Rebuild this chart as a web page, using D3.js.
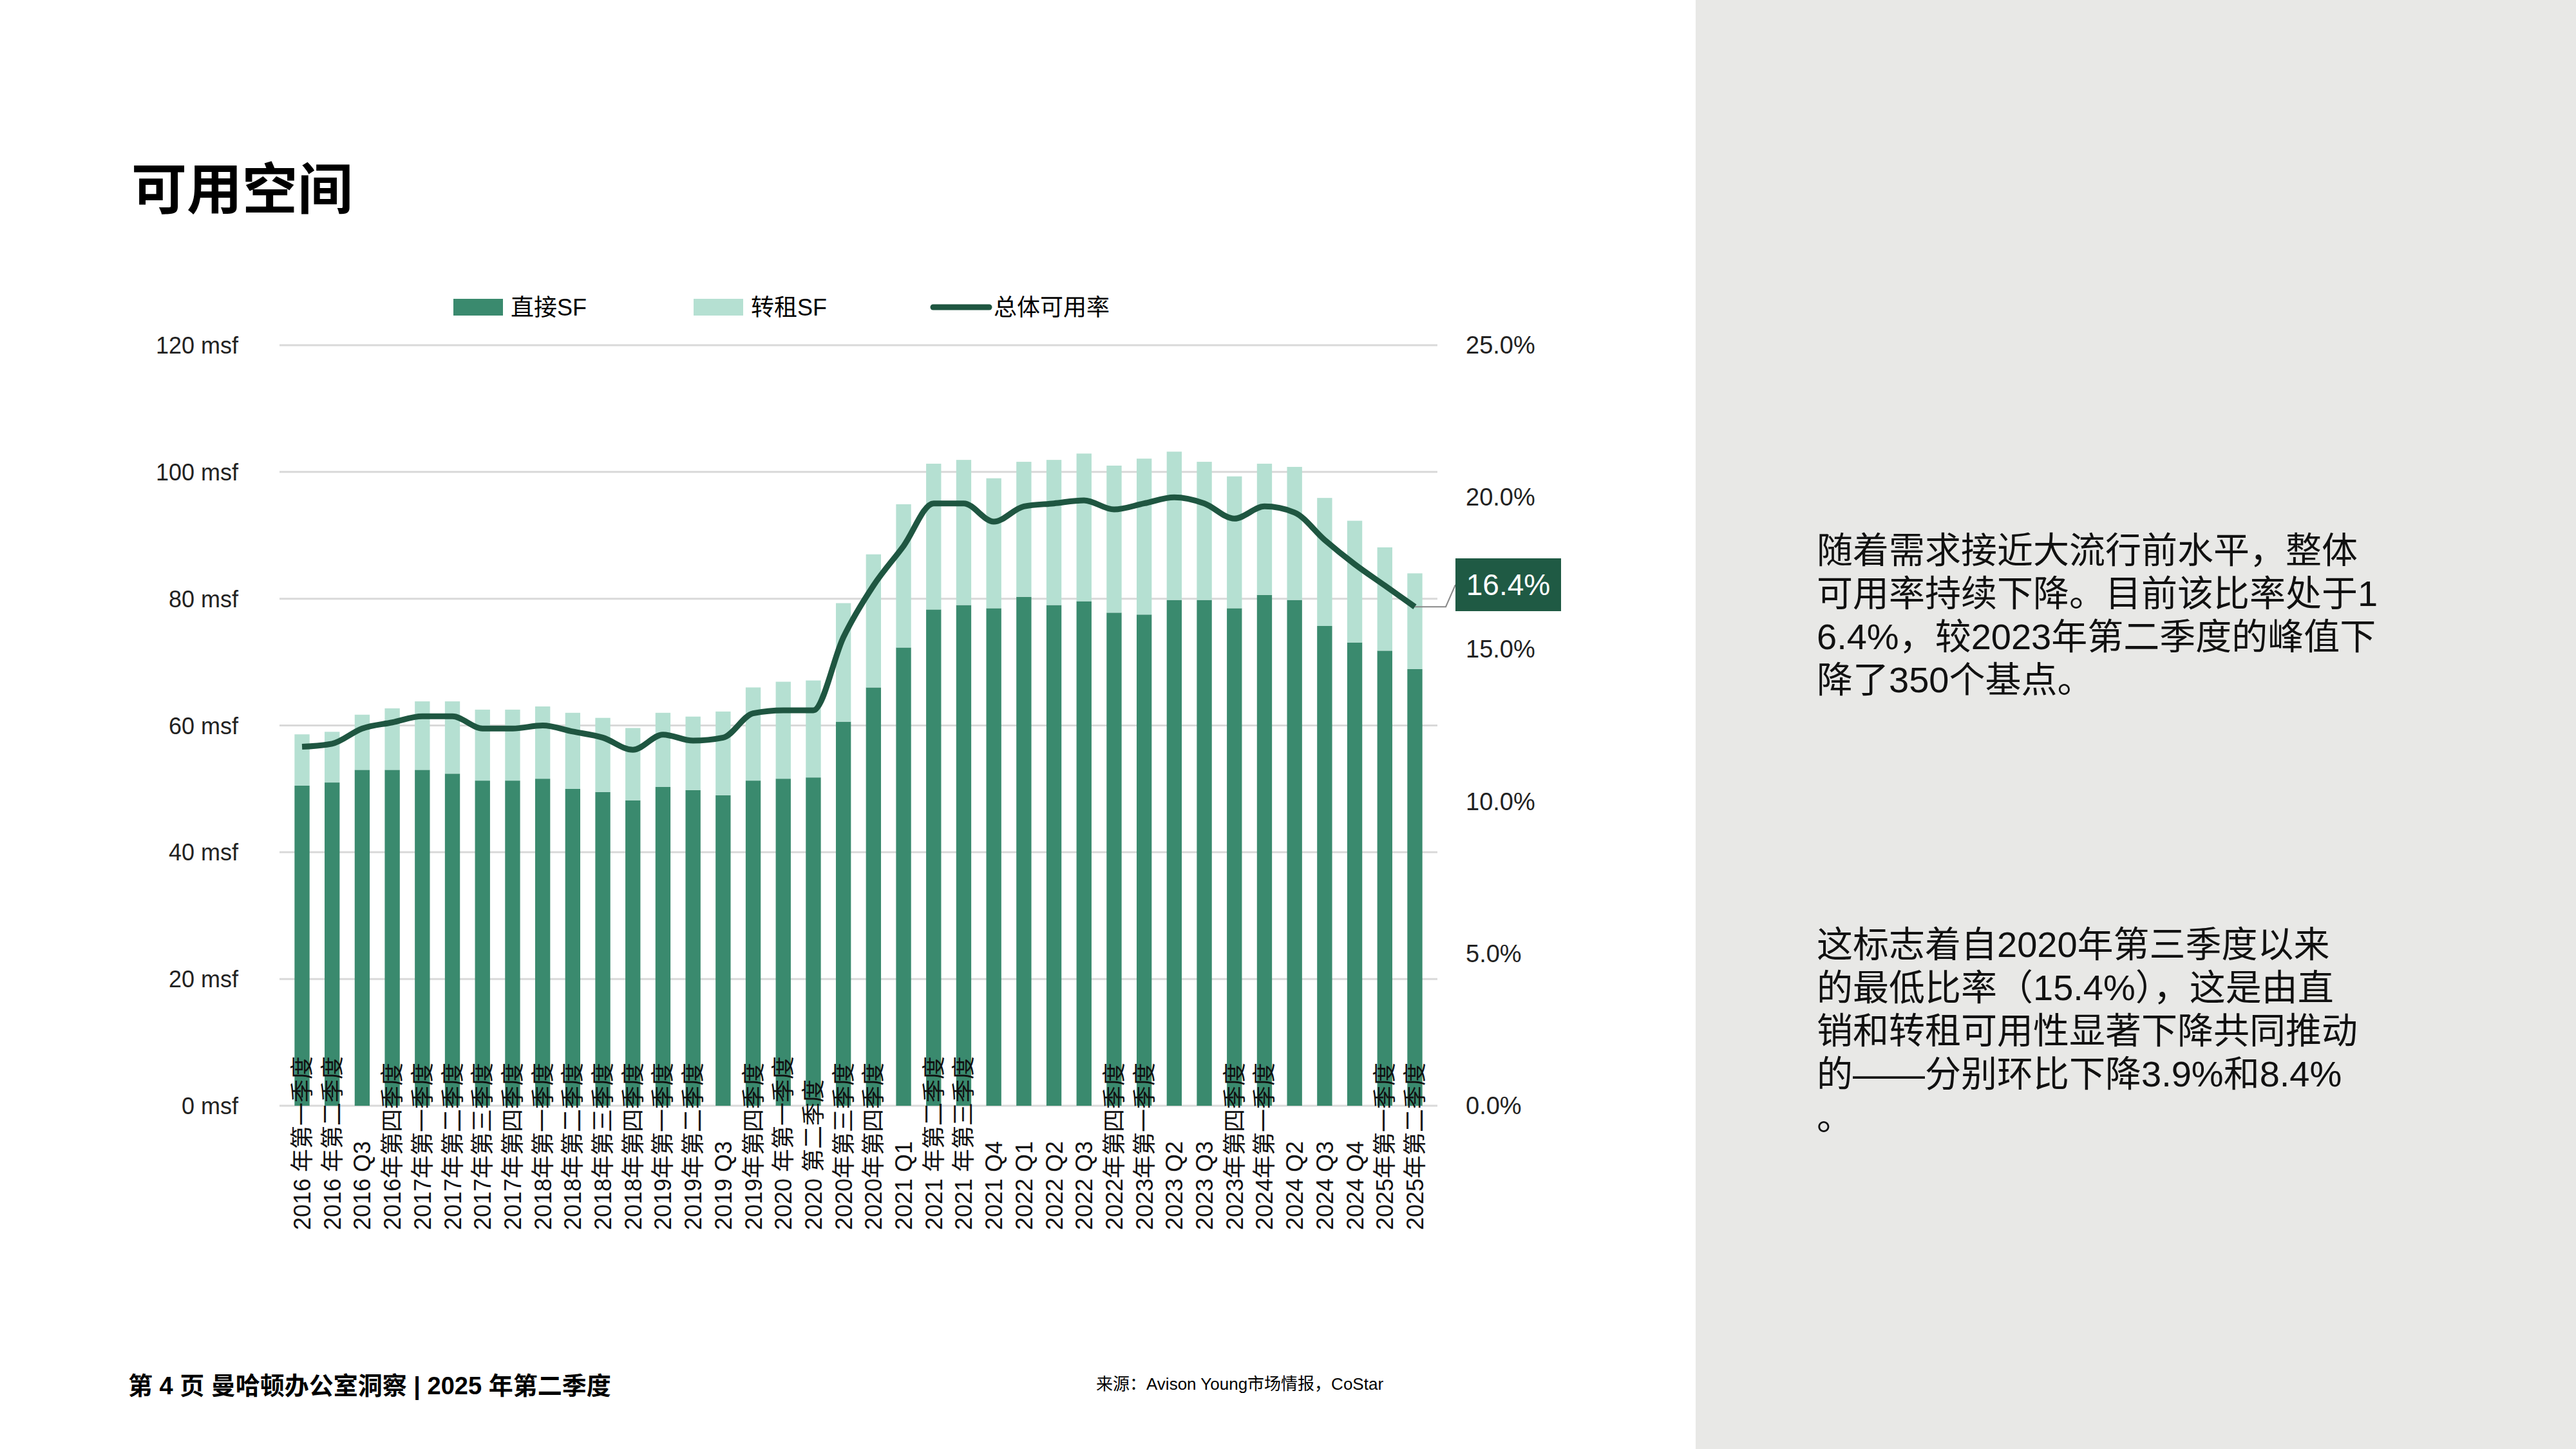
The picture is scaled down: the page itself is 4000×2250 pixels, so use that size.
<!DOCTYPE html><html><head><meta charset="utf-8"><script src="https://cdn.jsdelivr.net/npm/d3@7"></script>
<style>body{margin:0;background:#fff}svg{display:block;font-family:"Liberation Sans","Noto Sans CJK SC",sans-serif}</style></head><body>
<svg id="c" width="4000" height="2250"></svg>
<script>
const categories=["2016 年第一季度","2016 年第二季度","2016 Q3","2016年第四季度","2017年第一季度","2017年第二季度","2017年第三季度","2017年第四季度","2018年第一季度","2018年第二季度","2018年第三季度","2018年第四季度","2019年第一季度","2019年第二季度","2019 Q3","2019年第四季度","2020 年第一季度","2020 第二季度","2020年第三季度","2020年第四季度","2021 Q1","2021 年第二季度","2021 年第三季度","2021 Q4","2022 Q1","2022 Q2","2022 Q3","2022年第四季度","2023年第一季度","2023 Q2","2023 Q3","2023年第四季度","2024年第一季度","2024 Q2","2024 Q3","2024 Q4","2025年第一季度","2025年第二季度"];
const direct=[50.5,51,53,53,53,52.4,51.3,51.3,51.6,50,49.5,48.2,50.3,49.8,49,51.3,51.6,51.8,60.6,66,72.3,78.3,79,78.5,80.3,79,79.6,77.8,77.5,79.8,79.8,78.5,80.6,79.8,75.7,73.1,71.8,68.9];
const total=[58.6,59,61.7,62.7,63.8,63.8,62.5,62.5,63,62,61.2,59.6,62,61.4,62.2,66,66.9,67.1,79.3,87,94.9,101.3,101.9,99,101.6,101.9,102.9,101,102.1,103.2,101.6,99.3,101.3,100.8,95.9,92.3,88.1,84];
const rate=[11.8,11.9,12.4,12.6,12.8,12.8,12.4,12.4,12.5,12.3,12.1,11.7,12.2,12.0,12.1,12.9,13.0,13.0,15.4,17.1,18.4,19.8,19.8,19.2,19.7,19.8,19.9,19.6,19.8,20.0,19.8,19.3,19.7,19.5,18.6,17.8,17.1,16.4];
const leftTicks=[0,20,40,60,80,100,120];
const rightTicks=[0,5,10,15,20,25];

const svg=d3.select("#c");
svg.append("rect").attr("x",2633).attr("y",0).attr("width",1367).attr("height",2250).attr("fill","#e8e8e6");
svg.append("text").attr("x",204).attr("y",325).attr("font-size",86).attr("font-weight","bold").attr("font-family","Noto Sans CJK SC").text("可用空间");

const L=434,R=2232,T=536,B=1717;
const x=d3.scaleBand().domain(categories).range([L,R]).padding(0.5);
const y=d3.scaleLinear().domain([0,120]).range([B,T]);
const y2=d3.scaleLinear().domain([0,25]).range([B,T]);

svg.append("g").selectAll("line").data(leftTicks).join("line")
 .attr("x1",L).attr("x2",R).attr("y1",d=>y(d)).attr("y2",d=>y(d)).attr("stroke","#d9d9d9").attr("stroke-width",3);
svg.append("g").selectAll("text").data(leftTicks).join("text")
 .attr("x",370).attr("y",d=>y(d)+13).attr("text-anchor","end").attr("font-size",36).attr("fill","#222").text(d=>d+" msf");
svg.append("g").selectAll("text").data(rightTicks).join("text")
 .attr("x",2276).attr("y",d=>y2(d)+13).attr("font-size",38).attr("fill","#222").text(d=>d.toFixed(1)+"%");

svg.append("g").selectAll("rect").data(categories).join("rect")
 .attr("x",d=>x(d)).attr("width",x.bandwidth()).attr("y",(d,i)=>y(direct[i])).attr("height",(d,i)=>B-y(direct[i])).attr("fill","#3a8a6e");
svg.append("g").selectAll("rect").data(categories).join("rect")
 .attr("x",d=>x(d)).attr("width",x.bandwidth()).attr("y",(d,i)=>y(total[i])).attr("height",(d,i)=>y(direct[i])-y(total[i])).attr("fill","#b5e0d2");

const line=d3.line().x((d,i)=>x(categories[i])+x.bandwidth()/2).y(d=>y2(d)).curve(d3.curveMonotoneX);
svg.append("path").datum(rate).attr("d",line).attr("fill","none").attr("stroke","#1f5641").attr("stroke-width",9);

svg.append("g").selectAll("text").data(categories).join("text")
 .attr("transform",d=>`translate(${x(d)+x.bandwidth()/2+13},1910) rotate(-90)`)
 .attr("font-size",36).attr("fill","#111").text(d=>d);

const lx=x(categories[37])+x.bandwidth()/2, ly=y2(rate[37]);
svg.append("polyline").attr("points",`${lx},${ly} 2245,${ly} 2260,908`).attr("fill","none").attr("stroke","#888").attr("stroke-width",2);
svg.append("rect").attr("x",2260).attr("y",867).attr("width",164).attr("height",82).attr("fill","#1f5a44");
svg.append("text").attr("x",2342).attr("y",924).attr("text-anchor","middle").attr("font-size",46).attr("fill","#fff").text(rate[37].toFixed(1)+"%");

const lg=svg.append("g").attr("font-size",36);
lg.append("rect").attr("x",704).attr("y",464).attr("width",77).attr("height",26).attr("fill","#3a8a6e");
lg.append("text").attr("x",793).attr("y",490).text("直接SF");
lg.append("rect").attr("x",1077).attr("y",464).attr("width",77).attr("height",26).attr("fill","#b5e0d2");
lg.append("text").attr("x",1166).attr("y",490).text("转租SF");
lg.append("line").attr("x1",1449).attr("x2",1536).attr("y1",477).attr("y2",477).attr("stroke","#1f5641").attr("stroke-width",9).attr("stroke-linecap","round");
lg.append("text").attr("x",1543).attr("y",490).text("总体可用率");

const p1=["随着需求接近大流行前水平，整体","可用率持续下降。目前该比率处于1","6.4%，较2023年第二季度的峰值下","降了350个基点。"];
const p2=["这标志着自2020年第三季度以来","的最低比率（15.4%），这是由直","销和转租可用性显著下降共同推动","的——分别环比下降3.9%和8.4%","。"];
svg.append("g").selectAll("text").data(p1).join("text").attr("x",2821).attr("y",(d,i)=>874+i*67).attr("font-size",56).attr("fill","#111").text(d=>d);
svg.append("g").selectAll("text").data(p2).join("text").attr("x",2821).attr("y",(d,i)=>1486+i*67).attr("font-size",56).attr("fill","#111").text(d=>d);

svg.append("text").attr("x",199).attr("y",2165).attr("font-size",38).attr("font-weight","bold").text("第 4 页 曼哈顿办公室洞察 | 2025 年第二季度");
svg.append("text").attr("x",1702).attr("y",2158).attr("font-size",26).text("来源：Avison Young市场情报，CoStar");
</script></body></html>
